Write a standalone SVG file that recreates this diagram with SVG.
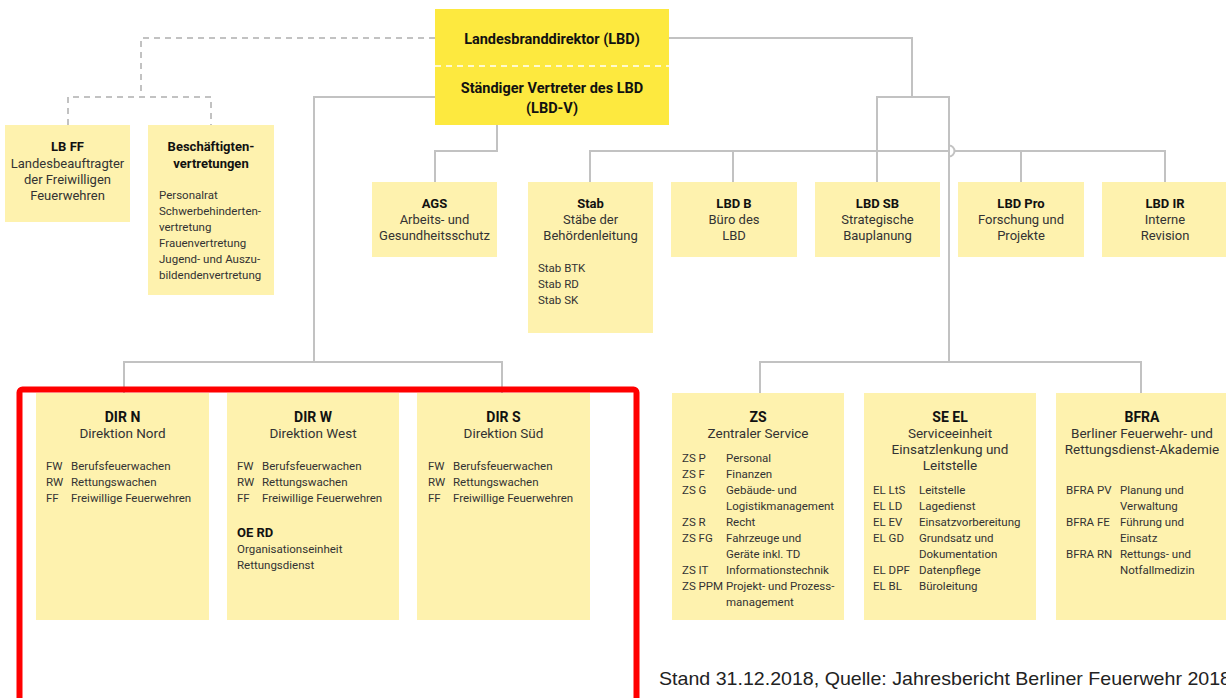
<svg xmlns="http://www.w3.org/2000/svg" width="1226" height="698" viewBox="0 0 1226 698">
<style>
.box{fill:#fef2ae}
.top{fill:#fde93f}
.t{font-family:Roboto,"Liberation Sans",sans-serif;font-size:13px;fill:#333;text-anchor:middle}
.b{font-family:Roboto,"Liberation Sans",sans-serif;font-size:13px;font-weight:bold;fill:#111;text-anchor:middle}
.bb{font-family:Roboto,"Liberation Sans",sans-serif;font-size:14px;font-weight:bold;fill:#111;text-anchor:middle}
.tt{font-family:Roboto,"Liberation Sans",sans-serif;font-size:13.5px;fill:#333;text-anchor:middle}
.s{font-family:Roboto,"Liberation Sans",sans-serif;font-size:11.5px;fill:#333}
.sb{font-family:Roboto,"Liberation Sans",sans-serif;font-size:13px;font-weight:bold;fill:#111}
.c{fill:none;stroke:#c2c2c2;stroke-width:2}
.d{fill:none;stroke:#c2c2c2;stroke-width:2;stroke-dasharray:6,5}
</style>
<rect width="1226" height="698" fill="#fff"/>
<g id="connectors">
<path class="d" d="M435,38 H141 V97"/>
<path class="d" d="M68,125 V97 H211 V125"/>
<path class="c" d="M435,97 H314 V362"/>
<path class="c" d="M124,393 V362 H502 V393"/>
<path class="c" d="M497,125 V151 H435 V182"/>
<path class="c" d="M669,38 H912 V97"/>
<path class="c" d="M877,182 V97 H949 V362"/>
<path class="c" d="M760,393 V362 H1141 V393"/>
<path class="c" d="M590,182 V151 H949"/>
<path class="c" d="M949,145.5 A5.5,5.5 0 0 1 949,156.5"/>
<path class="c" d="M954.5,151 H1165 V182"/>
<path class="c" d="M733,151 V182"/>
<path class="c" d="M1021,151 V182"/>
</g>
<g id="lbd">
<rect class="top" x="435" y="9" width="234" height="116"/>
<line x1="435" y1="66" x2="669" y2="66" stroke="#fff" stroke-width="1.5" stroke-dasharray="6,5"/>
<text class="bb" x="552" y="44" style="font-size:14.5px">Landesbranddirektor (LBD)</text>
<text class="bb" x="552" y="93" style="font-size:14.5px">Ständiger Vertreter des LBD</text>
<text class="bb" x="552" y="113" style="font-size:14.5px">(LBD-V)</text>
</g>
<g id="lbff">
<rect class="box" x="5" y="125" width="125" height="97"/>
<text class="b" x="67.5" y="151">LB FF</text>
<text class="t" x="67.5" y="167.5">Landesbeauftragter</text>
<text class="t" x="67.5" y="183.5">der Freiwilligen</text>
<text class="t" x="67.5" y="199.5">Feuerwehren</text>
</g>
<g id="bv">
<rect class="box" x="148" y="125" width="126" height="170"/>
<text class="b" x="211" y="151">Beschäftigten-</text>
<text class="b" x="211" y="167.5">vertretungen</text>
<text class="s" x="159" y="199">Personalrat</text>
<text class="s" x="159" y="215">Schwerbehinderten-</text>
<text class="s" x="159" y="231">vertretung</text>
<text class="s" x="159" y="247">Frauenvertretung</text>
<text class="s" x="159" y="263">Jugend- und Auszu-</text>
<text class="s" x="159" y="279">bildendenvertretung</text>
</g>
<g id="ags">
<rect class="box" x="372" y="182" width="125" height="75"/>
<text class="b" x="434.5" y="208">AGS</text>
<text class="t" x="434.5" y="224">Arbeits- und</text>
<text class="t" x="434.5" y="240">Gesundheitsschutz</text>
</g>
<g id="stab">
<rect class="box" x="528" y="182" width="125" height="151"/>
<text class="b" x="590.5" y="208">Stab</text>
<text class="t" x="590.5" y="224">Stäbe der</text>
<text class="t" x="590.5" y="240">Behördenleitung</text>
<text class="s" x="538" y="272">Stab BTK</text>
<text class="s" x="538" y="288">Stab RD</text>
<text class="s" x="538" y="304">Stab SK</text>
</g>
<g id="lbdb">
<rect class="box" x="671" y="182" width="126" height="75"/>
<text class="b" x="734" y="208">LBD B</text>
<text class="t" x="734" y="224">Büro des</text>
<text class="t" x="734" y="240">LBD</text>
</g>
<g id="lbdsb">
<rect class="box" x="815" y="182" width="125" height="75"/>
<text class="b" x="877.5" y="208">LBD SB</text>
<text class="t" x="877.5" y="224">Strategische</text>
<text class="t" x="877.5" y="240">Bauplanung</text>
</g>
<g id="lbdpro">
<rect class="box" x="958" y="182" width="126" height="75"/>
<text class="b" x="1021" y="208">LBD Pro</text>
<text class="t" x="1021" y="224">Forschung und</text>
<text class="t" x="1021" y="240">Projekte</text>
</g>
<g id="lbdir">
<rect class="box" x="1102" y="182" width="126" height="75"/>
<text class="b" x="1165" y="208">LBD IR</text>
<text class="t" x="1165" y="224">Interne</text>
<text class="t" x="1165" y="240">Revision</text>
</g>
<g id="dirn">
<rect class="box" x="36" y="393" width="173" height="227"/>
<text class="bb" x="122.5" y="421.5">DIR N</text>
<text class="tt" x="122.5" y="437.5">Direktion Nord</text>
<text class="s" x="46" y="470">FW</text><text class="s" x="71" y="470">Berufsfeuerwachen</text>
<text class="s" x="46" y="486">RW</text><text class="s" x="71" y="486">Rettungswachen</text>
<text class="s" x="46" y="502">FF</text><text class="s" x="71" y="502">Freiwillige Feuerwehren</text>
</g>
<g id="dirw">
<rect class="box" x="227" y="393" width="172" height="227"/>
<text class="bb" x="313" y="421.5">DIR W</text>
<text class="tt" x="313" y="437.5">Direktion West</text>
<text class="s" x="237" y="470">FW</text><text class="s" x="262" y="470">Berufsfeuerwachen</text>
<text class="s" x="237" y="486">RW</text><text class="s" x="262" y="486">Rettungswachen</text>
<text class="s" x="237" y="502">FF</text><text class="s" x="262" y="502">Freiwillige Feuerwehren</text>
<text class="sb" x="237" y="537">OE RD</text>
<text class="s" x="237" y="553">Organisationseinheit</text>
<text class="s" x="237" y="569">Rettungsdienst</text>
</g>
<g id="dirs">
<rect class="box" x="417" y="393" width="173" height="227"/>
<text class="bb" x="503.5" y="421.5">DIR S</text>
<text class="tt" x="503.5" y="437.5">Direktion Süd</text>
<text class="s" x="428" y="470">FW</text><text class="s" x="453" y="470">Berufsfeuerwachen</text>
<text class="s" x="428" y="486">RW</text><text class="s" x="453" y="486">Rettungswachen</text>
<text class="s" x="428" y="502">FF</text><text class="s" x="453" y="502">Freiwillige Feuerwehren</text>
</g>
<g id="zs">
<rect class="box" x="672" y="393" width="172" height="227"/>
<text class="bb" x="758" y="421.5">ZS</text>
<text class="tt" x="758" y="437.5">Zentraler Service</text>
<text class="s" x="682" y="462">ZS P</text><text class="s" x="726" y="462">Personal</text>
<text class="s" x="682" y="478">ZS F</text><text class="s" x="726" y="478">Finanzen</text>
<text class="s" x="682" y="494">ZS G</text><text class="s" x="726" y="494">Gebäude- und</text>
<text class="s" x="726" y="510">Logistikmanagement</text>
<text class="s" x="682" y="526">ZS R</text><text class="s" x="726" y="526">Recht</text>
<text class="s" x="682" y="542">ZS FG</text><text class="s" x="726" y="542">Fahrzeuge und</text>
<text class="s" x="726" y="558">Geräte inkl. TD</text>
<text class="s" x="682" y="574">ZS IT</text><text class="s" x="726" y="574">Informationstechnik</text>
<text class="s" x="682" y="590">ZS PPM</text><text class="s" x="726" y="590">Projekt- und Prozess-</text>
<text class="s" x="726" y="606">management</text>
</g>
<g id="seel">
<rect class="box" x="864" y="393" width="172" height="227"/>
<text class="bb" x="950" y="421.5">SE EL</text>
<text class="tt" x="950" y="437.5">Serviceeinheit</text>
<text class="tt" x="950" y="453.5">Einsatzlenkung und</text>
<text class="tt" x="950" y="469.5">Leitstelle</text>
<text class="s" x="873" y="494">EL LtS</text><text class="s" x="919" y="494">Leitstelle</text>
<text class="s" x="873" y="510">EL LD</text><text class="s" x="919" y="510">Lagedienst</text>
<text class="s" x="873" y="526">EL EV</text><text class="s" x="919" y="526">Einsatzvorbereitung</text>
<text class="s" x="873" y="542">EL GD</text><text class="s" x="919" y="542">Grundsatz und</text>
<text class="s" x="919" y="558">Dokumentation</text>
<text class="s" x="873" y="574">EL DPF</text><text class="s" x="919" y="574">Datenpflege</text>
<text class="s" x="873" y="590">EL BL</text><text class="s" x="919" y="590">Büroleitung</text>
</g>
<g id="bfra">
<rect class="box" x="1056" y="393" width="172" height="227"/>
<text class="bb" x="1142" y="421.5">BFRA</text>
<text class="tt" x="1142" y="437.5">Berliner Feuerwehr- und</text>
<text class="tt" x="1142" y="453.5">Rettungsdienst-Akademie</text>
<text class="s" x="1066" y="494">BFRA PV</text><text class="s" x="1120" y="494">Planung und</text>
<text class="s" x="1120" y="510">Verwaltung</text>
<text class="s" x="1066" y="526">BFRA FE</text><text class="s" x="1120" y="526">Führung und</text>
<text class="s" x="1120" y="542">Einsatz</text>
<text class="s" x="1066" y="558">BFRA RN</text><text class="s" x="1120" y="558">Rettungs- und</text>
<text class="s" x="1120" y="574">Notfallmedizin</text>
</g>
<rect id="highlight" x="19.5" y="389.5" width="617" height="330" rx="3" fill="none" stroke="#ff0000" stroke-width="6"/>
<text id="source" x="659" y="685" font-family="'Liberation Sans',Arial,sans-serif" font-size="19" fill="#222" textLength="572" lengthAdjust="spacingAndGlyphs">Stand 31.12.2018, Quelle: Jahresbericht Berliner Feuerwehr 2018</text>
</svg>
